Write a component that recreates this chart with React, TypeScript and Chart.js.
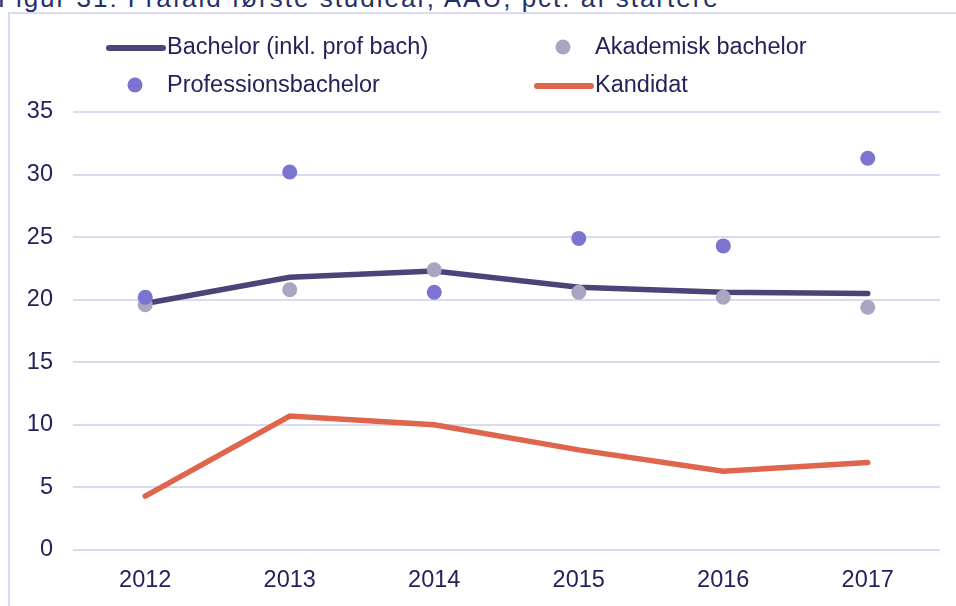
import React, { useEffect, useRef } from "react";
import { Chart, registerables } from "chart.js";

Chart.register(...registerables);

const years = ["2012", "2013", "2014", "2015", "2016", "2017"];
const bachelor = [19.7, 21.8, 22.3, 21.0, 20.6, 20.5];
const akademisk = [19.6, 20.8, 22.4, 20.6, 20.2, 19.4];
const professions = [20.2, 30.2, 20.6, 24.9, 24.3, 31.3];
const kandidat = [4.3, 10.7, 10.0, 8.0, 6.3, 7.0];
const yTicks = [0, 5, 10, 15, 20, 25, 30, 35];

const titleText = "Figur 31: Frafald første studieår, AAU, pct. af startere";

const C_BACH = "#4a4579";
const C_AKAD = "#aaa6bf";
const C_PROF = "#7b74d0";
const C_KAND = "#e0654d";
const C_GRID = "#dcd9f3";
const C_TEXT = "#24225a";
const FONT = "'Liberation Sans', Arial, sans-serif";

const legendItems = [
  { label: "Bachelor (inkl. prof bach)", kind: "line", color: C_BACH, col: 0, row: 0 },
  { label: "Akademisk bachelor", kind: "dot", color: C_AKAD, col: 1, row: 0 },
  { label: "Professionsbachelor", kind: "dot", color: C_PROF, col: 0, row: 1 },
  { label: "Kandidat", kind: "line", color: C_KAND, col: 1, row: 1 },
];

const legendPlugin = {
  id: "gridLegend",
  afterDraw(chart: any) {
    const ctx = chart.ctx;
    const colX = [167, 595];
    const rowY = [47, 85];
    ctx.save();
    ctx.font = `23.5px ${FONT}`;
    ctx.textBaseline = "middle";
    ctx.textAlign = "left";
    for (const it of legendItems) {
      const tx = colX[it.col];
      const ty = rowY[it.row];
      if (it.kind === "line") {
        ctx.strokeStyle = it.color;
        ctx.lineWidth = 6;
        ctx.lineCap = "round";
        ctx.beginPath();
        ctx.moveTo(tx - 58, ty + 1);
        ctx.lineTo(tx - 4, ty + 1);
        ctx.stroke();
      } else {
        ctx.fillStyle = it.color;
        ctx.beginPath();
        ctx.arc(tx - 32, ty, 7.5, 0, Math.PI * 2);
        ctx.fill();
      }
      ctx.fillStyle = C_TEXT;
      ctx.fillText(it.label, tx, ty + 1);
    }
    ctx.restore();
  },
};

export default function App() {
  const ref = useRef<HTMLCanvasElement | null>(null);
  useEffect(() => {
    const prevMargin = document.body.style.margin;
    document.body.style.margin = "0";
    if (!ref.current) return;
    const chart = new Chart(ref.current, {
      type: "line",
      data: {
        labels: years,
        datasets: [
          {
            label: "Professionsbachelor",
            data: professions,
            showLine: false,
            pointRadius: 7.5,
            pointHoverRadius: 7.5,
            pointBackgroundColor: C_PROF,
            pointBorderWidth: 0,
            borderColor: C_PROF,
            order: 0,
          },
          {
            label: "Akademisk bachelor",
            data: akademisk,
            showLine: false,
            pointRadius: 7.5,
            pointHoverRadius: 7.5,
            pointBackgroundColor: C_AKAD,
            pointBorderWidth: 0,
            borderColor: C_AKAD,
            order: 1,
          },
          {
            label: "Bachelor (inkl. prof bach)",
            data: bachelor,
            borderColor: C_BACH,
            borderWidth: 5.5,
            pointRadius: 0,
            borderCapStyle: "round",
            tension: 0,
            order: 2,
          },
          {
            label: "Kandidat",
            data: kandidat,
            borderColor: C_KAND,
            borderWidth: 5.5,
            pointRadius: 0,
            borderCapStyle: "round",
            tension: 0,
            order: 3,
          },
        ],
      },
      options: {
        animation: false,
        responsive: true,
        maintainAspectRatio: false,
        layout: { padding: { top: 112, right: 16, left: 0, bottom: 0 } },
        plugins: {
          legend: { display: false },
          tooltip: { enabled: false },
          title: { display: false },
        },
        scales: {
          x: {
            offset: true,
            grid: { display: false, drawTicks: false },
            border: { display: false },
            ticks: {
              color: C_TEXT,
              font: { family: FONT, size: 23.5 },
              padding: 16,
              maxRotation: 0,
            },
            afterFit(scale: any) {
              scale.height = 56;
            },
          },
          y: {
            min: 0,
            max: 35,
            afterBuildTicks(scale: any) {
              scale.ticks = yTicks.map((v) => ({ value: v }));
            },
            grid: { color: C_GRID, lineWidth: 2, drawTicks: false },
            border: { display: false },
            ticks: {
              color: C_TEXT,
              font: { family: FONT, size: 23.5 },
              padding: 20,
            },
            afterFit(scale: any) {
              scale.width = 73;
            },
          },
        },
      },
      plugins: [legendPlugin],
    });
    return () => {
      chart.destroy();
      document.body.style.margin = prevMargin;
    };
  }, []);

  return (
    <div
      style={{
        position: "fixed",
        left: 0,
        top: 0,
        width: 956,
        height: 606,
        background: "#ffffff",
        overflow: "hidden",
      }}
    >
      <div
        style={{
          position: "absolute",
          left: -2,
          top: -17,
          whiteSpace: "nowrap",
          fontFamily: FONT,
          fontSize: 26,
          letterSpacing: 2,
          color: "#25306b",
        }}
      >
        {titleText}
      </div>
      <div
        style={{
          position: "absolute",
          left: 8,
          top: 12,
          width: 980,
          height: 640,
          border: `2px solid ${C_GRID}`,
          boxSizing: "border-box",
        }}
      />
      <div style={{ position: "absolute", left: 0, top: 0, width: 956, height: 606 }}>
        <canvas ref={ref} />
      </div>
    </div>
  );
}
